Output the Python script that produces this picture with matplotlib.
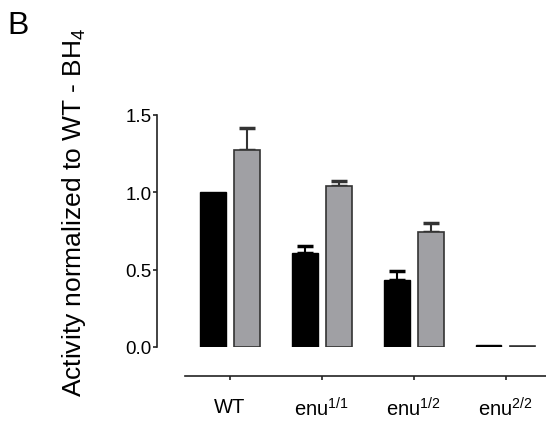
import matplotlib
matplotlib.use("Agg")
import matplotlib.pyplot as plt
import numpy as np

plt.rcParams['font.family'] = ['Liberation Sans', 'DejaVu Sans']
plt.rcParams['mathtext.default'] = 'regular'

categories = ["WT", "enu$^{1/1}$", "enu$^{1/2}$", "enu$^{2/2}$"]
black_vals = [1.00, 0.607, 0.435, 0.015]
black_err = [0.0, 0.045, 0.055, 0.0]
gray_vals = [1.275, 1.039, 0.741, 0.008]
gray_err = [0.14, 0.032, 0.063, 0.0]
yticks = [0.0, 0.5, 1.0, 1.5]
ylabel = "Activity normalized to WT - BH$_4$"

W, H = 546, 427
fig = plt.figure(figsize=(W/100, H/100), dpi=100)
ax = fig.add_axes([185/W, (H-348)/H, (W-185)/W, (348-116)/H])

x = np.arange(len(categories))
bw = 0.28
off = 0.185
ax.bar(x - off, black_vals, bw, color='black', edgecolor='black', linewidth=1, zorder=2)
ax.bar(x + off, gray_vals, bw, color='#a0a0a4', edgecolor='#333333', linewidth=1.2, zorder=2)

for xs, vals, errs, col in [(x - off, black_vals, black_err, 'black'),
                            (x + off, gray_vals, gray_err, '#333333')]:
    for xi, v, e in zip(xs, vals, errs):
        if e > 0:
            ax.errorbar([xi], [v], yerr=[[0], [e]], fmt='none', ecolor=col,
                        elinewidth=1.5, capsize=6, capthick=2.5, zorder=1)

ax.set_xlim(-0.49, 3.44)
ax.set_ylim(0, 1.5)
for s in ['top', 'right']:
    ax.spines[s].set_visible(False)
ax.spines['left'].set_position(('outward', 28 * 72 / 100))
ax.spines['left'].set_bounds(0, 1.5)
ax.spines['bottom'].set_position(('outward', 28.7 * 72 / 100))
for s in ['left', 'bottom']:
    ax.spines[s].set_linewidth(1.2)
    ax.spines[s].set_color('#222222')

ax.set_yticks(yticks)
ax.set_yticklabels([f"{v:.1f}" for v in yticks], fontsize=13.5)
ax.set_xticks(x)
ax.set_xticklabels(categories, fontsize=14.5)
ax.tick_params(axis='y', length=3, width=1.2, pad=1, color='#222222')
ax.tick_params(axis='x', length=3, width=1.2, pad=12, color='#222222')

fig.text(74/W, 1 - 212/H, ylabel, rotation=90, ha='center', va='center', fontsize=19)
fig.text(7/W, 1 - 26/H, "B", ha='left', va='center', fontsize=23)

fig.savefig("out.png", dpi=100)
